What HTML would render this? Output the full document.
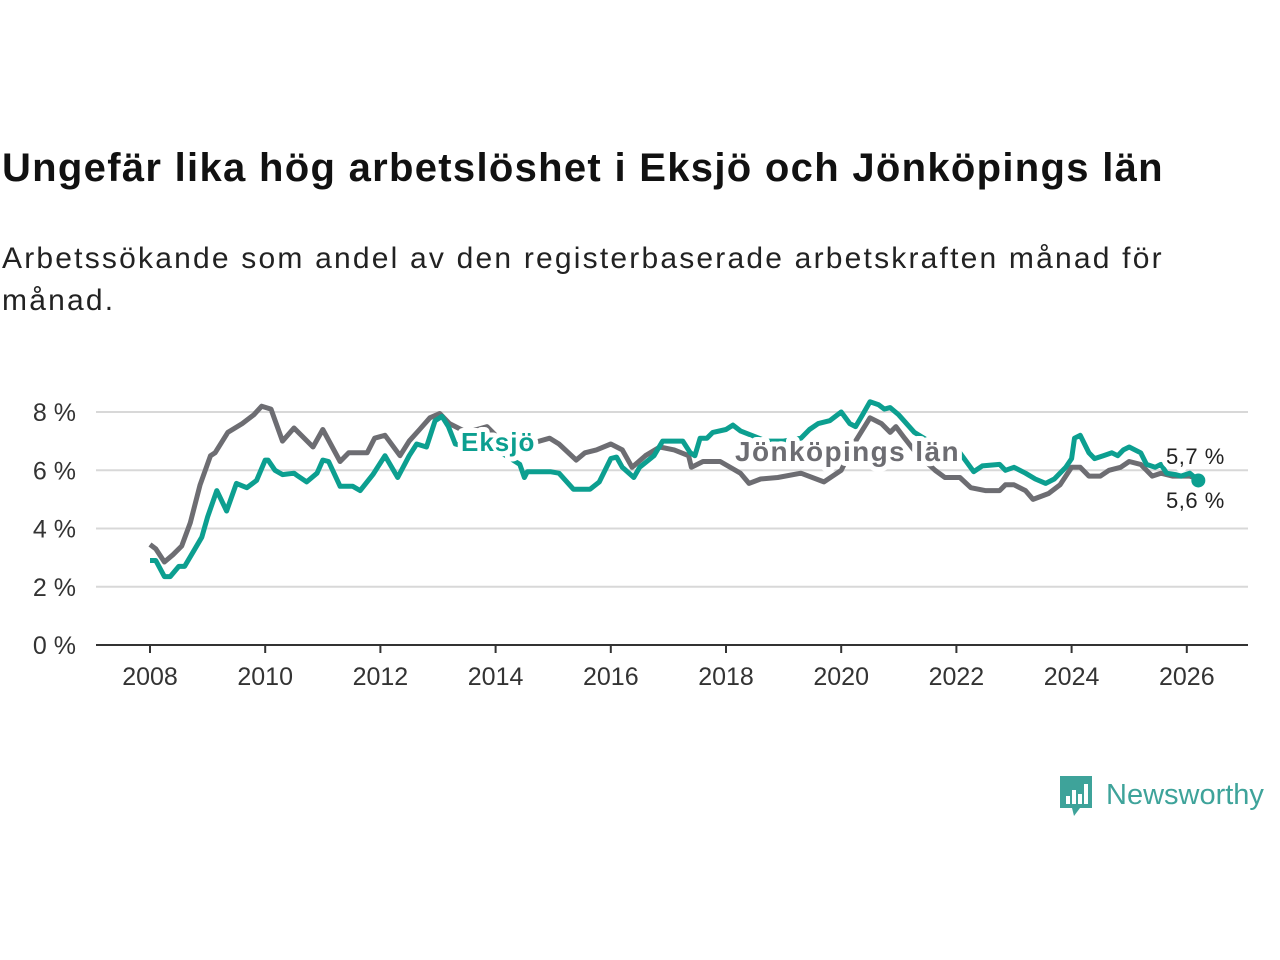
<!DOCTYPE html>
<html><head><meta charset="utf-8">
<style>
body{margin:0;width:1280px;height:960px;background:#fff;font-family:"Liberation Sans","DejaVu Sans",sans-serif;overflow:hidden;position:relative}
#title{position:absolute;left:2px;top:146px;font-size:40px;font-weight:bold;color:#111;white-space:nowrap;letter-spacing:1.3px}
#sub{position:absolute;left:2px;top:238px;font-size:30px;color:#222;line-height:42px;width:1190px;letter-spacing:2.2px}
svg{position:absolute;left:0;top:0}
#logo{position:absolute;left:1058px;top:772px;display:flex;align-items:center}
</style></head><body>
<div id="title">Ungefär lika hög arbetslöshet i Eksjö och Jönköpings län</div>
<div id="sub">Arbetssökande som andel av den registerbaserade arbetskraften månad för månad.</div>
<svg id="chart" width="1280" height="960"></svg>
<div id="logo">
<svg width="36" height="46" style="position:static"><path d="M2 4h32v32H22l-6 8-2-8H2z" fill="#3ea39a"/><rect x="8" y="24" width="4" height="8" fill="#fff"/><rect x="14" y="18" width="4" height="14" fill="#fff"/><rect x="20" y="22" width="4" height="10" fill="#fff"/><rect x="26" y="12" width="4" height="20" fill="#fff"/></svg>
<span style="font-size:29px;color:#3ea39a;margin-left:12px">Newsworthy</span></div>
<script>
const yTicks=[0,2,4,6,8];
const xTicks=[2008,2010,2012,2014,2016,2018,2020,2022,2024,2026];
const jonYears=[2008.0,2008.1,2008.25,2008.4,2008.55,2008.7,2008.87,2009.05,2009.13,2009.35,2009.6,2009.8,2009.94,2010.1,2010.3,2010.5,2010.83,2011.0,2011.3,2011.45,2011.77,2011.9,2012.08,2012.34,2012.5,2012.68,2012.86,2013.03,2013.2,2013.5,2013.85,2014.1,2014.4,2014.94,2015.1,2015.4,2015.55,2015.75,2016.0,2016.2,2016.37,2016.6,2016.85,2017.1,2017.35,2017.4,2017.6,2017.9,2018.25,2018.4,2018.6,2018.9,2019.3,2019.7,2020.0,2020.25,2020.5,2020.7,2020.85,2020.95,2021.1,2021.3,2021.63,2021.8,2022.06,2022.25,2022.5,2022.75,2022.85,2023.0,2023.2,2023.33,2023.6,2023.8,2024.0,2024.15,2024.3,2024.5,2024.65,2024.85,2025.0,2025.2,2025.4,2025.55,2025.75,2026.05,2026.2];
const jonVals=[3.45,3.3,2.85,3.1,3.4,4.2,5.5,6.5,6.6,7.3,7.6,7.9,8.2,8.1,7.0,7.45,6.8,7.4,6.3,6.6,6.6,7.1,7.2,6.5,7.0,7.4,7.8,7.95,7.6,7.3,7.5,7.0,6.8,7.1,6.9,6.35,6.6,6.7,6.9,6.7,6.1,6.5,6.8,6.7,6.5,6.1,6.3,6.3,5.9,5.55,5.7,5.75,5.9,5.6,6.0,7.0,7.8,7.6,7.3,7.5,7.1,6.6,6.0,5.75,5.75,5.4,5.3,5.3,5.5,5.5,5.3,5.0,5.2,5.5,6.1,6.1,5.8,5.8,6.0,6.1,6.3,6.2,5.8,5.9,5.8,5.8,5.7];
const eksYears=[2008.0,2008.1,2008.25,2008.35,2008.5,2008.6,2008.75,2008.9,2009.0,2009.16,2009.33,2009.5,2009.68,2009.85,2010.0,2010.05,2010.17,2010.3,2010.5,2010.57,2010.72,2010.9,2011.0,2011.1,2011.3,2011.52,2011.65,2011.87,2012.08,2012.3,2012.5,2012.63,2012.8,2012.95,2013.07,2013.18,2013.3,2013.7,2014.1,2014.42,2014.5,2014.55,2014.95,2015.1,2015.35,2015.64,2015.8,2016.0,2016.1,2016.2,2016.4,2016.5,2016.75,2016.9,2017.08,2017.25,2017.38,2017.46,2017.55,2017.67,2017.77,2018.0,2018.12,2018.25,2018.7,2019.0,2019.3,2019.45,2019.6,2019.8,2020.0,2020.15,2020.25,2020.37,2020.5,2020.65,2020.75,2020.85,2021.0,2021.27,2021.6,2022.06,2022.3,2022.45,2022.75,2022.85,2023.0,2023.2,2023.37,2023.55,2023.7,2023.9,2024.0,2024.05,2024.15,2024.3,2024.4,2024.55,2024.7,2024.8,2024.9,2025.0,2025.2,2025.3,2025.45,2025.55,2025.65,2025.8,2025.9,2026.05,2026.2];
const eksVals=[2.9,2.9,2.35,2.35,2.7,2.7,3.2,3.7,4.4,5.3,4.6,5.55,5.4,5.65,6.35,6.35,6.0,5.85,5.9,5.8,5.6,5.9,6.35,6.3,5.45,5.45,5.3,5.85,6.5,5.75,6.5,6.9,6.8,7.7,7.85,7.5,6.9,6.7,6.6,6.2,5.75,5.95,5.95,5.9,5.35,5.35,5.6,6.4,6.45,6.1,5.75,6.1,6.5,7.0,7.0,7.0,6.6,6.5,7.1,7.1,7.3,7.4,7.55,7.35,7.0,7.0,7.1,7.4,7.6,7.7,8.0,7.6,7.5,7.9,8.35,8.25,8.1,8.15,7.9,7.3,6.9,6.6,5.95,6.15,6.2,6.0,6.1,5.9,5.7,5.55,5.7,6.1,6.4,7.1,7.2,6.6,6.4,6.5,6.6,6.5,6.7,6.8,6.6,6.2,6.1,6.2,5.9,5.85,5.8,5.9,5.65];
const svg=document.getElementById('chart');
const NS='http://www.w3.org/2000/svg';
const X=y=>150+(y-2008)*57.6;
const Y=v=>645-v*29.125;
function mk(t,a){const e=document.createElementNS(NS,t);for(const k in a)e.setAttribute(k,a[k]);svg.appendChild(e);return e;}
yTicks.forEach(v=>{
 if(v>0){const g=mk('line',{x1:96,x2:1248,y1:Y(v),y2:Y(v),stroke:'#d8d8d8','stroke-width':2});
 
 }
 const t=mk('text',{x:76,y:Y(v)+9,'text-anchor':'end','font-size':25,fill:'#333'});t.textContent=v+' %';
 
 
});
const ax=mk('line',{x1:96,x2:1248,y1:645,y2:645,stroke:'#333','stroke-width':2});


xTicks.forEach(y=>{
 const tk=mk('line',{x1:X(y),x2:X(y),y1:645,y2:653,stroke:'#333','stroke-width':2});
 
 
 const t=mk('text',{x:X(y),y:685,'text-anchor':'middle','font-size':25,fill:'#333'});t.textContent=y;
 
 
});
function line(ys,vs,col,name){
 const d=ys.map((y,i)=>(i?'L':'M')+X(y).toFixed(1)+' '+Y(vs[i]).toFixed(1)).join('');
 const p=mk('path',{d:d,fill:'none',stroke:col,'stroke-width':5,'stroke-linejoin':'round'});
 
 
}
line(jonYears,jonVals,'#6d6d72','series-jonkopings-lan');
line(eksYears,eksVals,'#0c9f90','series-eksjo');
const dot=mk('circle',{cx:X(eksYears[eksYears.length-1]),cy:Y(eksVals[eksVals.length-1]),r:7,fill:'#0c9f90'});


function lab(x,y,txt,col,size,w,name,ls){
 const t=mk('text',{x:x,y:y,'font-size':size,'font-weight':w,fill:col,stroke:'#fff','stroke-width':10,'paint-order':'stroke','stroke-linejoin':'round','letter-spacing':ls});
 t.textContent=txt;
 
 
}
lab(461,451,'Eksjö','#0c9f90',26,'bold','eksjo-label','1px');
lab(735,461,'Jönköpings län','#6d6d72',28,'bold','jonkoping-label','1.4px');
lab(1166,464,'5,7 %','#222',22,'normal','jonkoping-end-value','0.5px');
lab(1166,508,'5,6 %','#222',22,'normal','eksjo-end-value','0.5px');
</script>
</body></html>
